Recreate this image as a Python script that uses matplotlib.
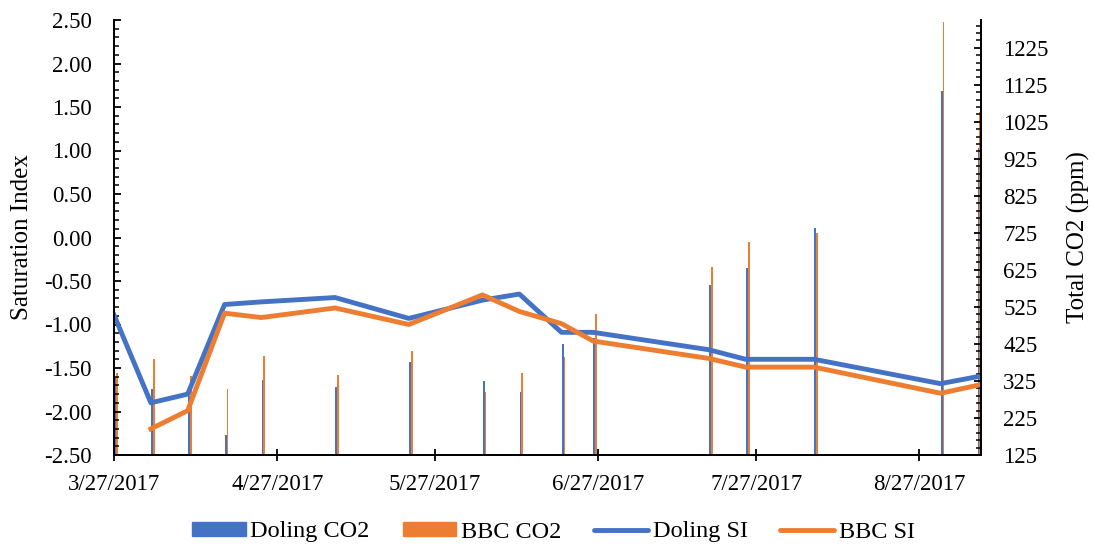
import numpy as np
import pandas as pd
import matplotlib
matplotlib.use("Agg")
import matplotlib.pyplot as plt
import matplotlib.dates as mdates
from matplotlib.patches import Patch
from matplotlib.lines import Line2D
from matplotlib.ticker import MultipleLocator, FixedLocator, FuncFormatter

# sampling dates
dates = pd.to_datetime([
    "2017-03-27", "2017-04-03", "2017-04-10", "2017-04-17", "2017-04-24",
    "2017-05-08", "2017-05-22", "2017-06-05", "2017-06-12", "2017-06-20",
    "2017-06-26", "2017-07-18", "2017-07-25", "2017-08-07", "2017-08-31",
    "2017-09-07",
])

# total CO2 (ppm), right axis
doling_co2 = [335, 302, 285, 178, 328, 310, 377, 325, 295, 424, 440, 583, 629, 739, 1109, 953]
bbc_co2 = [347, 384, 338, 302, 393, 341, 406, 295, 346, 389, 506, 633, 701, 724, 1295, 1052]

# saturation index, left axis
doling_si = [-0.89, -1.90, -1.80, -0.77, -0.74, -0.69, -0.93, -0.72, -0.65, -1.09, -1.09,
             -1.29, -1.40, -1.40, -1.68, -1.60]
bbc_si = [np.nan, -2.20, -1.99, -0.87, -0.92, -0.81, -1.00, -0.66, -0.85, -0.99, -1.19,
          -1.39, -1.49, -1.49, -1.79, -1.70]

xtick_dates = pd.to_datetime(["2017-03-27", "2017-04-27", "2017-05-27",
                              "2017-06-27", "2017-07-27", "2017-08-27"])

blue = "#4472C4"
orange = "#ED7D31"

plt.rcParams["font.family"] = ["Liberation Serif", "DejaVu Serif"]
fs = 16.5

fig = plt.figure(figsize=(10.98, 5.51), dpi=100)
ax = fig.add_axes([114 / 1098, 1 - 455 / 551, 867 / 1098, 435 / 551])
ax2 = ax.twinx()

# bars on the secondary axis (behind the lines)
x = mdates.date2num(dates)
w = 0.34
ax2.bar(x + 0.22, doling_co2, width=w, color=blue, bottom=0)
ax2.bar(x + 0.56, bbc_co2, width=w, color=orange, bottom=0)
ax2.set_ylim(125, 1300)
ax2.yaxis.set_major_locator(FixedLocator(np.arange(125, 1226, 100)))
ax2.yaxis.set_minor_locator(FixedLocator(np.arange(125, 1300, 20)))
ax2.set_ylabel("Total CO2 (ppm)", fontsize=18)
ax2.yaxis.set_label_coords(1.099, 0.5)

# lines on the primary axis
ax.set_zorder(ax2.get_zorder() + 1)
ax.patch.set_visible(False)
ax.plot(x, doling_si, color=blue, lw=3.5, solid_joinstyle="round")
ax.plot(x, bbc_si, color=orange, lw=3.5, solid_joinstyle="round")
ax.set_ylim(-2.5, 2.5)
ax.yaxis.set_major_locator(MultipleLocator(0.5))
ax.yaxis.set_minor_locator(MultipleLocator(0.1))
ax.yaxis.set_major_formatter(FuncFormatter(lambda v, p: f"{v:.2f}"))
ax.set_ylabel("Saturation Index", fontsize=18)
ax.yaxis.set_label_coords(-0.094, 0.5)

ax.set_xlim(mdates.date2num(pd.Timestamp("2017-03-27")),
            mdates.date2num(pd.Timestamp("2017-09-07")) + 0.7)
ax.set_xticks(mdates.date2num(xtick_dates))
ax.set_xticklabels([f"{d.month}/{d.day}/{d.year}" for d in xtick_dates])

for a in (ax, ax2):
    a.spines["top"].set_visible(False)
    for s in a.spines.values():
        s.set_linewidth(1.3)
ax.tick_params(axis="x", which="major", direction="inout", length=9, width=1.3,
               pad=9, labelsize=fs)
ax.tick_params(axis="y", which="major", direction="in", length=5, width=1.3,
               pad=16, labelsize=fs)
ax.tick_params(axis="y", which="minor", direction="in", length=3.5, width=1.1)
ax2.tick_params(axis="y", which="major", direction="in", length=5, width=1.3,
                pad=16, labelsize=fs)
ax2.tick_params(axis="y", which="minor", direction="in", length=3.5, width=1.1)

handles = [
    Patch(color=blue, label="Doling CO2"),
    Patch(color=orange, label="BBC CO2"),
    Line2D([], [], color=blue, lw=3.5, solid_capstyle="round", label="Doling SI"),
    Line2D([], [], color=orange, lw=3.5, solid_capstyle="round", label="BBC SI"),
]
fig.legend(handles=handles, loc="center", bbox_to_anchor=(0.504, 1 - 532 / 551),
           ncol=4, frameon=False, fontsize=17.5, handlelength=2.2, handleheight=0.55,
           handletextpad=0.2, columnspacing=1.35)

fig.savefig("out.png", dpi=100)
